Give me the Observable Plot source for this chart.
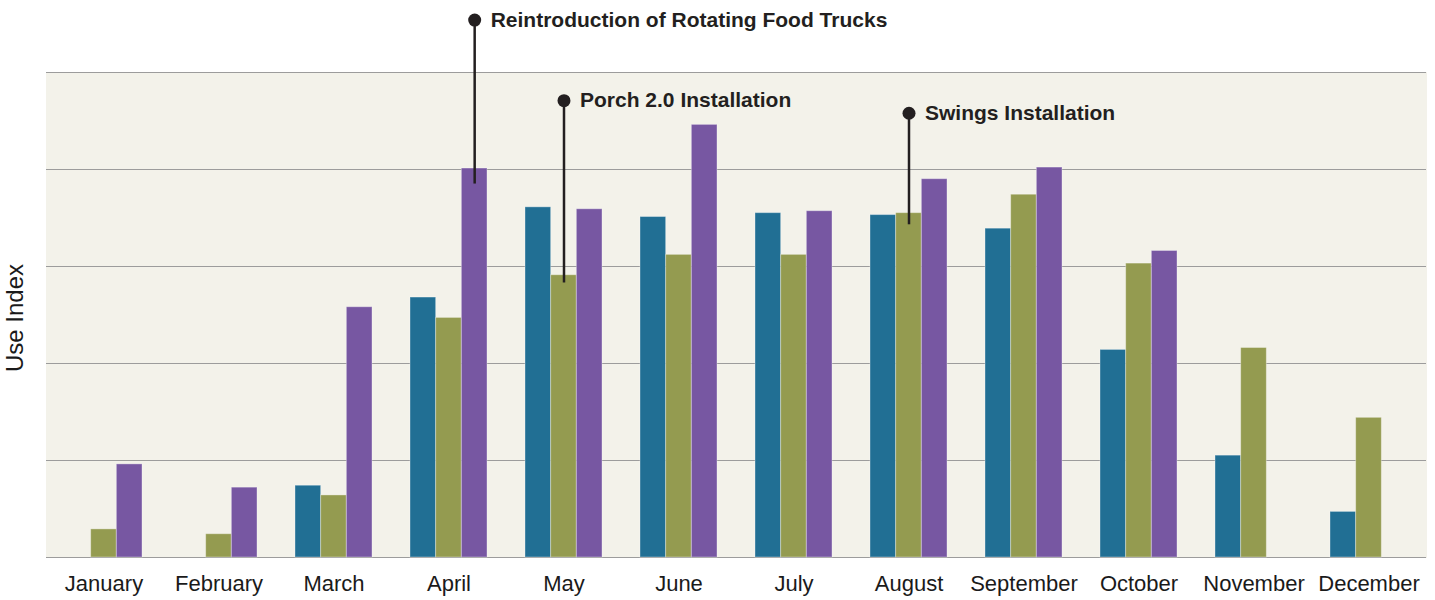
<!DOCTYPE html>
<html>
<head>
<meta charset="utf-8">
<script src="https://cdn.jsdelivr.net/npm/d3@7"></script>
<script src="https://cdn.jsdelivr.net/npm/@observablehq/plot@0.6"></script>
<style>
  html, body { margin: 0; padding: 0; background: #ffffff; }
  #chart svg { display: block; }
</style>
</head>
<body>
<div id="chart"></div>
<script>
const months = ["January", "February", "March", "April", "May", "June", "July", "August", "September", "October", "November", "December"];
const seriesNames = ["Series 1", "Series 2", "Series 3"];
const seriesColors = ["#216f94", "#949b50", "#7757a2"];
const series1Values = [null, null, 0.74, 2.68, 3.61, 3.51, 3.55, 3.53, 3.39, 2.14, 1.05, 0.47];
const series2Values = [0.29, 0.24, 0.64, 2.47, 2.91, 3.12, 3.12, 3.55, 3.74, 3.03, 2.16, 1.44];
const series3Values = [0.96, 0.72, 2.58, 4.01, 3.59, 4.46, 3.57, 3.90, 4.02, 3.16, null, null];
const gridTicks = [0, 1, 2, 3, 4, 5];

const annotationLabels = ["Reintroduction of Rotating Food Trucks", "Porch 2.0 Installation", "Swings Installation"];
const annotationMonths = ["April", "May", "August"];
const annotationSeries = ["Series 3", "Series 2", "Series 2"];
const annotationLabelY = [5.54, 4.71, 4.58];
const annotationLineEnd = [3.85, 2.83, 3.43];

const allValues = [series1Values, series2Values, series3Values];
const data = [];
months.forEach((m, i) => {
  seriesNames.forEach((s, j) => {
    const v = allValues[j][i];
    if (v != null) data.push({month: m, series: s, value: v});
  });
});
const annotations = annotationLabels.map((t, i) => ({
  label: t, month: annotationMonths[i], series: annotationSeries[i],
  labelY: annotationLabelY[i], lineEnd: annotationLineEnd[i]
}));

const bg = "#f3f2ea";
const ink = "#231f20";

const chart = Plot.plot({
  width: 1435,
  height: 600,
  marginLeft: 46,
  marginRight: 9,
  marginTop: 72,
  marginBottom: 43,
  style: {fontFamily: "'Liberation Sans', Arial, sans-serif", fontSize: "22px", color: "#1a1a1a", background: "#ffffff"},
  fx: {domain: months, padding: 0, round: false, label: null, tickSize: 0, tickPadding: 18},
  x: {domain: seriesNames, axis: null, paddingInner: 0, paddingOuter: 0.74, round: false},
  y: {domain: [0, 5], axis: null},
  color: {domain: seriesNames, range: seriesColors},
  marks: [
    Plot.frame({fill: bg, stroke: bg}),
    Plot.ruleY(gridTicks, {stroke: "#9c9c9c", strokeWidth: 1.2}),
    Plot.barY(data, {fx: "month", x: "series", y: "value", fill: "series", stroke: "#ffffff", strokeOpacity: 0.35, strokeWidth: 1}),
    Plot.ruleX(annotations, {fx: "month", x: "series", y1: "labelY", y2: "lineEnd", stroke: ink, strokeWidth: 2.5}),
    Plot.dot(annotations, {fx: "month", x: "series", y: "labelY", r: 6.5, fill: ink, stroke: null}),
    Plot.text(annotations, {fx: "month", x: "series", y: "labelY", text: "label", dx: 16, textAnchor: "start", fontWeight: "bold", fontSize: 21, fill: ink}),
    Plot.text(["Use Index"], {fx: () => months[0], text: d => d, frameAnchor: "left", textAnchor: "middle", rotate: -90, dx: -31, dy: 3, fontSize: 24, fill: "#1a1a1a"})
  ]
});
document.getElementById("chart").appendChild(chart);
</script>
</body>
</html>
